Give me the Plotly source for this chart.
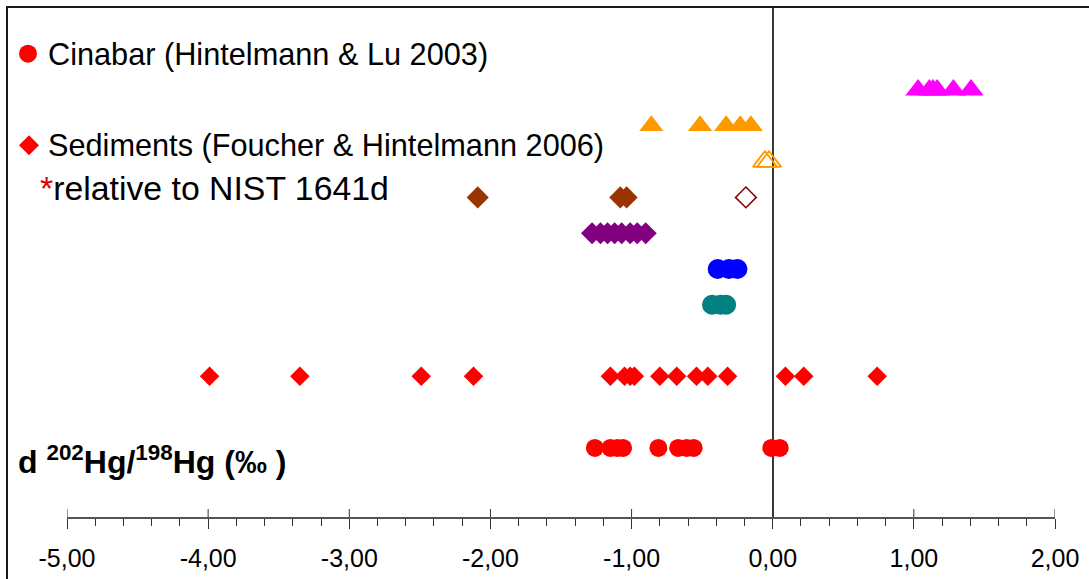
import plotly.graph_objects as go

# δ202Hg/198Hg values (‰), one row per sample group
cinabar = [-1.26, -1.15, -1.10, -1.06, -0.81, -0.67, -0.61, -0.56, -0.01, 0.05]
sediments = [-3.99, -3.35, -2.49, -2.12, -1.15, -1.05, -1.01, -0.98, -0.80,
             -0.68, -0.54, -0.46, -0.32, 0.09, 0.22, 0.74]
teal_pts = [-0.43, -0.37, -0.33]
blue_pts = [-0.39, -0.31, -0.25]
purple_pts = [-1.28, -1.22, -1.17, -1.12, -1.07, -1.01, -0.96, -0.90]
brown_pts = [-2.09, -1.08, -1.035]
brown_open = [-0.19]
orange_open = [-0.055, -0.026]
orange_pts = [-0.86, -0.515, -0.33, -0.23, -0.155]
magenta_pts = [1.03, 1.11, 1.135, 1.165, 1.28, 1.405]

# row index of each group on the hidden vertical axis
rows = {
    "cinabar": 1, "sediments": 3, "teal": 5, "blue": 6, "purple": 7,
    "brown": 8, "orange_open": 9, "orange": 10, "magenta": 11,
}

tick_vals = [-5, -4, -3, -2, -1, 0, 1, 2]
tick_text = ["-5,00", "-4,00", "-3,00", "-2,00", "-1,00", "0,00", "1,00", "2,00"]

FONT = "Liberation Sans, Arial, sans-serif"

# plot-area geometry (pixels) used to place the in-chart key
W, H = 1089, 579
L, R, T, B = 67, 34, 7, 59
PW, PH = W - L - R, H - T - B


def px_x(px):
    return (px - L) / PW


def px_y(py):
    return (H - B - py) / PH


fig = go.Figure()


def add(xs, row, symbol, size, color, open_=False, lw=2):
    marker = dict(symbol=symbol, size=size, color=color)
    if open_:
        marker.update(line=dict(color=color, width=lw))
    else:
        marker.update(line=dict(width=0))
    fig.add_trace(go.Scatter(
        x=xs, y=[row] * len(xs), mode="markers", marker=marker,
        showlegend=False, hoverinfo="x", cliponaxis=False,
    ))


add(cinabar, rows["cinabar"], "circle", 18, "#FF0000")
add(sediments, rows["sediments"], "diamond", 15, "#FF0000")
add(teal_pts, rows["teal"], "circle", 20, "#008080")
add(blue_pts, rows["blue"], "circle", 20, "#0000FF")
add(purple_pts, rows["purple"], "diamond", 17, "#800080")
add(brown_pts, rows["brown"], "diamond", 17, "#993300")
add(brown_open, rows["brown"], "diamond-open", 16, "#800000", open_=True, lw=1.5)
add(orange_open, rows["orange_open"], "triangle-up-open", 21, "#FF9900", open_=True, lw=1.8)
add(orange_pts, rows["orange"], "triangle-up", 21, "#FF9900")
add(magenta_pts, rows["magenta"], "triangle-up", 22, "#FF00FF")

shapes = [
    # outer frame of the chart area
    dict(type="rect", xref="paper", yref="paper",
         x0=px_x(7), x1=1.3, y0=-0.5, y1=px_y(7),
         line=dict(color="#1a1a1a", width=2), fillcolor="rgba(0,0,0,0)", layer="above"),
    # key symbols
    dict(type="circle", xref="paper", yref="paper",
         xsizemode="pixel", ysizemode="pixel",
         xanchor=px_x(28), yanchor=px_y(54), x0=-9, x1=9, y0=-9, y1=9,
         fillcolor="#FF0000", line=dict(width=0)),
    dict(type="path", xref="paper", yref="paper",
         xsizemode="pixel", ysizemode="pixel",
         xanchor=px_x(29), yanchor=px_y(146),
         path="M -10 0 L 0 10 L 10 0 L 0 -10 Z",
         fillcolor="#FF0000", line=dict(width=0)),
]
# upper half of each major tick, crossing the axis line
for tv in tick_vals:
    shapes.append(dict(type="line", xref="x", yref="paper",
                       ysizemode="pixel", yanchor=0, x0=tv, x1=tv, y0=0, y1=8,
                       line=dict(color="#333333", width=1)))

annotations = [
    dict(text="Cinabar (Hintelmann & Lu 2003)", x=px_x(46), y=px_y(55),
         xanchor="left", yanchor="middle"),
    dict(text="Sediments (Foucher & Hintelmann 2006)", x=px_x(46), y=px_y(146),
         xanchor="left", yanchor="middle"),
    dict(text='<span style="color:#E00000">*</span>relative to NIST 1641d',
         x=px_x(38), y=px_y(189), xanchor="left", yanchor="middle",
         font=dict(size=33.8, family=FONT, color="black")),
    dict(text="<b>d <sup>202</sup>Hg/<sup>198</sup>Hg (‰ )</b>",
         x=px_x(16), y=px_y(463), xanchor="left", yanchor="middle",
         font=dict(size=32, family=FONT, color="black")),
]
for a in annotations:
    a.setdefault("font", dict(size=30.7, family=FONT, color="black"))
    a.update(xref="paper", yref="paper", showarrow=False)

fig.update_layout(
    width=W, height=H,
    margin=dict(l=L, r=R, t=T, b=B, pad=0),
    paper_bgcolor="white", plot_bgcolor="white",
    font=dict(family=FONT, color="black"),
    showlegend=False,
    shapes=shapes,
    annotations=annotations,
    xaxis=dict(
        range=[-5, 2], tickvals=tick_vals, ticktext=tick_text,
        showgrid=False, zeroline=True, zerolinecolor="#3a3a3a", zerolinewidth=1.5,
        showline=True, linecolor="#555555", linewidth=2,
        ticks="outside", ticklen=10, tickwidth=1, tickcolor="#333333",
        minor=dict(dtick=0.2, ticks="outside", ticklen=7, tickwidth=1, tickcolor="#333333"),
        tickfont=dict(size=25, family=FONT, color="black"),
        ticklabelstandoff=8,
    ),
    yaxis=dict(range=[-0.93, -0.93 + PH / 36], visible=False, zeroline=False, showgrid=False),
)

fig.write_html("out.html")
